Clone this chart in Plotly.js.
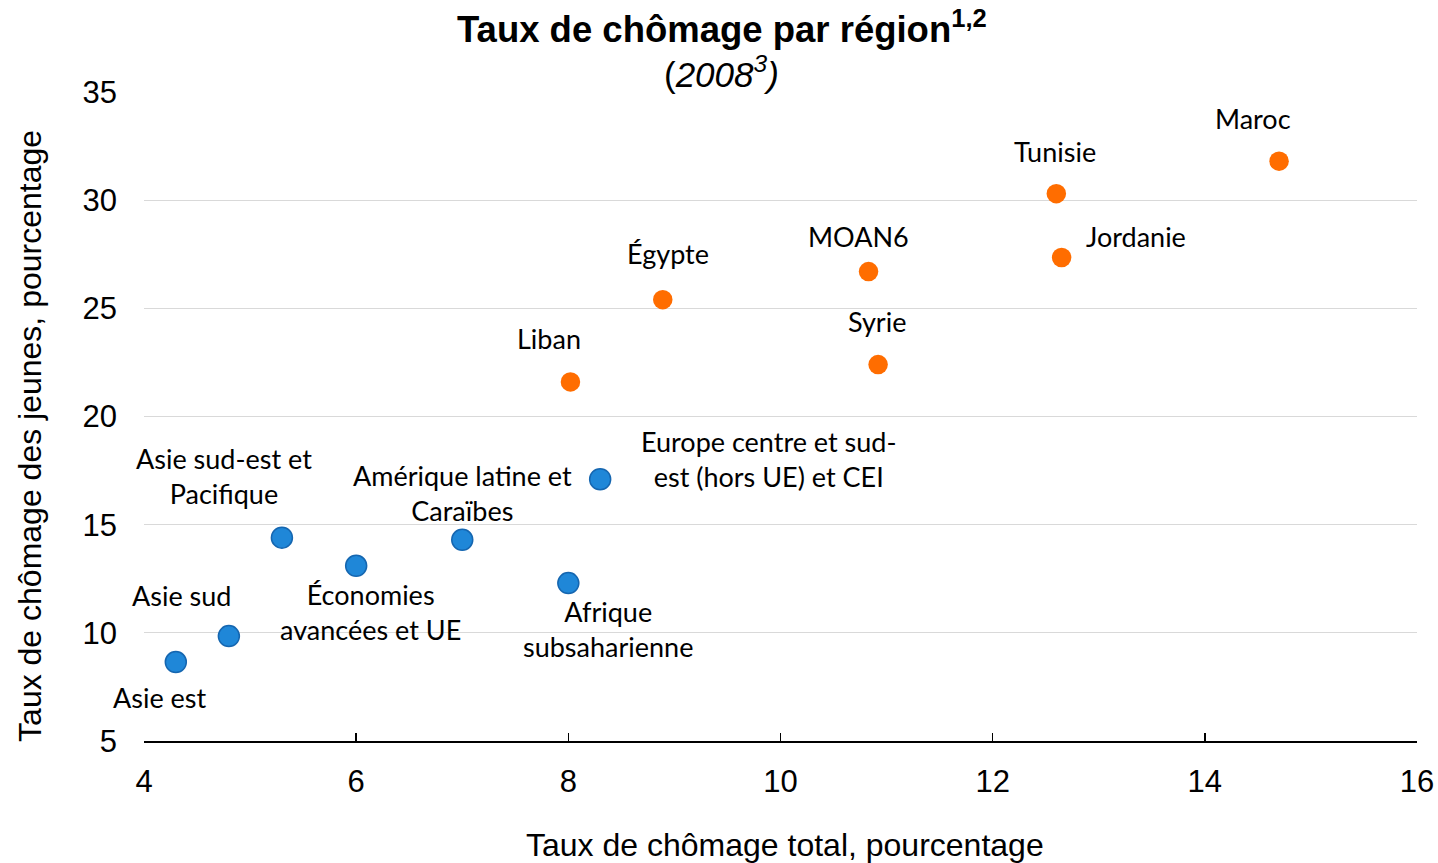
<!DOCTYPE html>
<html>
<head>
<meta charset="utf-8">
<script src="https://cdn.plot.ly/plotly-3.0.1.min.js"></script>
<style>html,body{margin:0;padding:0;background:#fff}#chart{width:1438px;height:863px}</style>
</head>
<body>
<div id="chart"></div>
<script>
// Pays MOAN (orange)
const menaNames = ["Maroc", "Tunisie", "Jordanie", "MOAN6", "Syrie", "Égypte", "Liban"];
const menaTotal = [14.70, 12.60, 12.65, 10.83, 10.92, 8.89, 8.02];
const menaYouth = [31.8, 30.3, 27.35, 26.7, 22.4, 25.4, 21.6];

// Autres régions (bleu)
const regionNames = ["Europe centre et sud-<br>est (hors UE) et CEI", "Amérique latine et<br>Caraïbes", "Afrique<br>subsaharienne",
  "Économies<br>avancées et UE", "Asie sud-est et<br>Pacifique", "Asie sud", "Asie est"];
const regionTotal = [8.30, 7.00, 8.00, 6.00, 5.30, 4.80, 4.30];
const regionYouth = [17.1, 14.3, 12.3, 13.1, 14.4, 9.85, 8.65];

const xTicks = [4, 6, 8, 10, 12, 14, 16];
const yTicks = [5, 10, 15, 20, 25, 30, 35];

const titleMain = "<b>Taux de chômage par région<sup>1,2</sup></b>";
const titleSub = "(<i>2008<sup>3</sup>)</i>";
const xTitle = "Taux de chômage total, pourcentage";
const yTitle = "Taux de chômage des jeunes, pourcentage";

// label offsets in pixels (style/position, not data)
const menaShift = [[-26, 43], [-1, 42], [74, 21], [-10, 35], [-1, 43], [5, 46], [-21, 43]];
const regionShift = [[169, 20], [0, 47], [40, -46], [14, -46], [-58, 62], [-47, 41], [-16, -35]];

const arial = "'Liberation Sans', Arial, sans-serif";
const labelFont = {family: "Lato, 'Open Sans', sans-serif", size: 27, color: "#000"};
const annotations = [];
menaNames.forEach((n, i) => annotations.push({x: menaTotal[i], y: menaYouth[i], xref: 'x', yref: 'y', text: n,
  showarrow: false, xshift: menaShift[i][0], yshift: menaShift[i][1], font: labelFont, align: 'center'}));
regionNames.forEach((n, i) => annotations.push({x: regionTotal[i], y: regionYouth[i], xref: 'x', yref: 'y', text: n,
  showarrow: false, xshift: regionShift[i][0], yshift: regionShift[i][1], font: labelFont, align: 'center'}));
annotations.push({text: yTitle, textangle: -90, xref: 'paper', yref: 'paper',
  x: -0.0896, y: 0.47, xanchor: 'center', yanchor: 'middle', showarrow: false,
  font: {family: arial, size: 32, color: "#000"}});
annotations.push({text: xTitle, xref: 'paper', yref: 'paper',
  x: 0.5035, y: -0.160, xanchor: 'center', yanchor: 'middle', showarrow: false,
  font: {family: arial, size: 32, color: "#000"}});
annotations.push({text: titleMain, xref: 'paper', yref: 'paper',
  x: 0.454, y: 1.100, xanchor: 'center', yanchor: 'middle', showarrow: false,
  font: {family: arial, size: 36.5, color: "#000"}});
annotations.push({text: titleSub, xref: 'paper', yref: 'paper',
  x: 0.454, y: 1.031, xanchor: 'center', yanchor: 'middle', showarrow: false,
  font: {family: arial, size: 35, color: "#000"}});

const data = [
  {type: 'scatter', mode: 'markers', x: regionTotal, y: regionYouth, text: regionNames, hoverinfo: 'text',
    marker: {size: 21, color: '#1f87d8', line: {color: '#1566b0', width: 1.5}}},
  {type: 'scatter', mode: 'markers', x: menaTotal, y: menaYouth, text: menaNames, hoverinfo: 'text',
    marker: {size: 19.5, color: '#ff6d00', line: {width: 0}}}
];

const axisFont = {family: arial, size: 31, color: "#000"};
const layout = {
  width: 1438, height: 863,
  margin: {l: 144, r: 21, t: 92, b: 122},
  paper_bgcolor: '#fff', plot_bgcolor: '#fff',
  showlegend: false,
  xaxis: {
    range: [4, 16], tickvals: xTicks, ticktext: xTicks.map(String),
    showgrid: false, zeroline: false, showline: true, linecolor: '#000', linewidth: 2,
    ticks: 'inside', ticklen: 8, tickwidth: 1.5, tickcolor: '#000',
    tickfont: axisFont, ticklabelstandoff: 12
  },
  yaxis: {
    range: [5, 35], tickvals: yTicks, ticktext: yTicks.map(String),
    showgrid: true, gridcolor: '#d9d9d9', gridwidth: 1.3, zeroline: false, showline: false,
    ticks: '', tickfont: axisFont, ticklabelstandoff: 26
  },
  annotations: annotations
};

Plotly.newPlot('chart', data, layout, {displayModeBar: false, staticPlot: true});
</script>
</body>
</html>
